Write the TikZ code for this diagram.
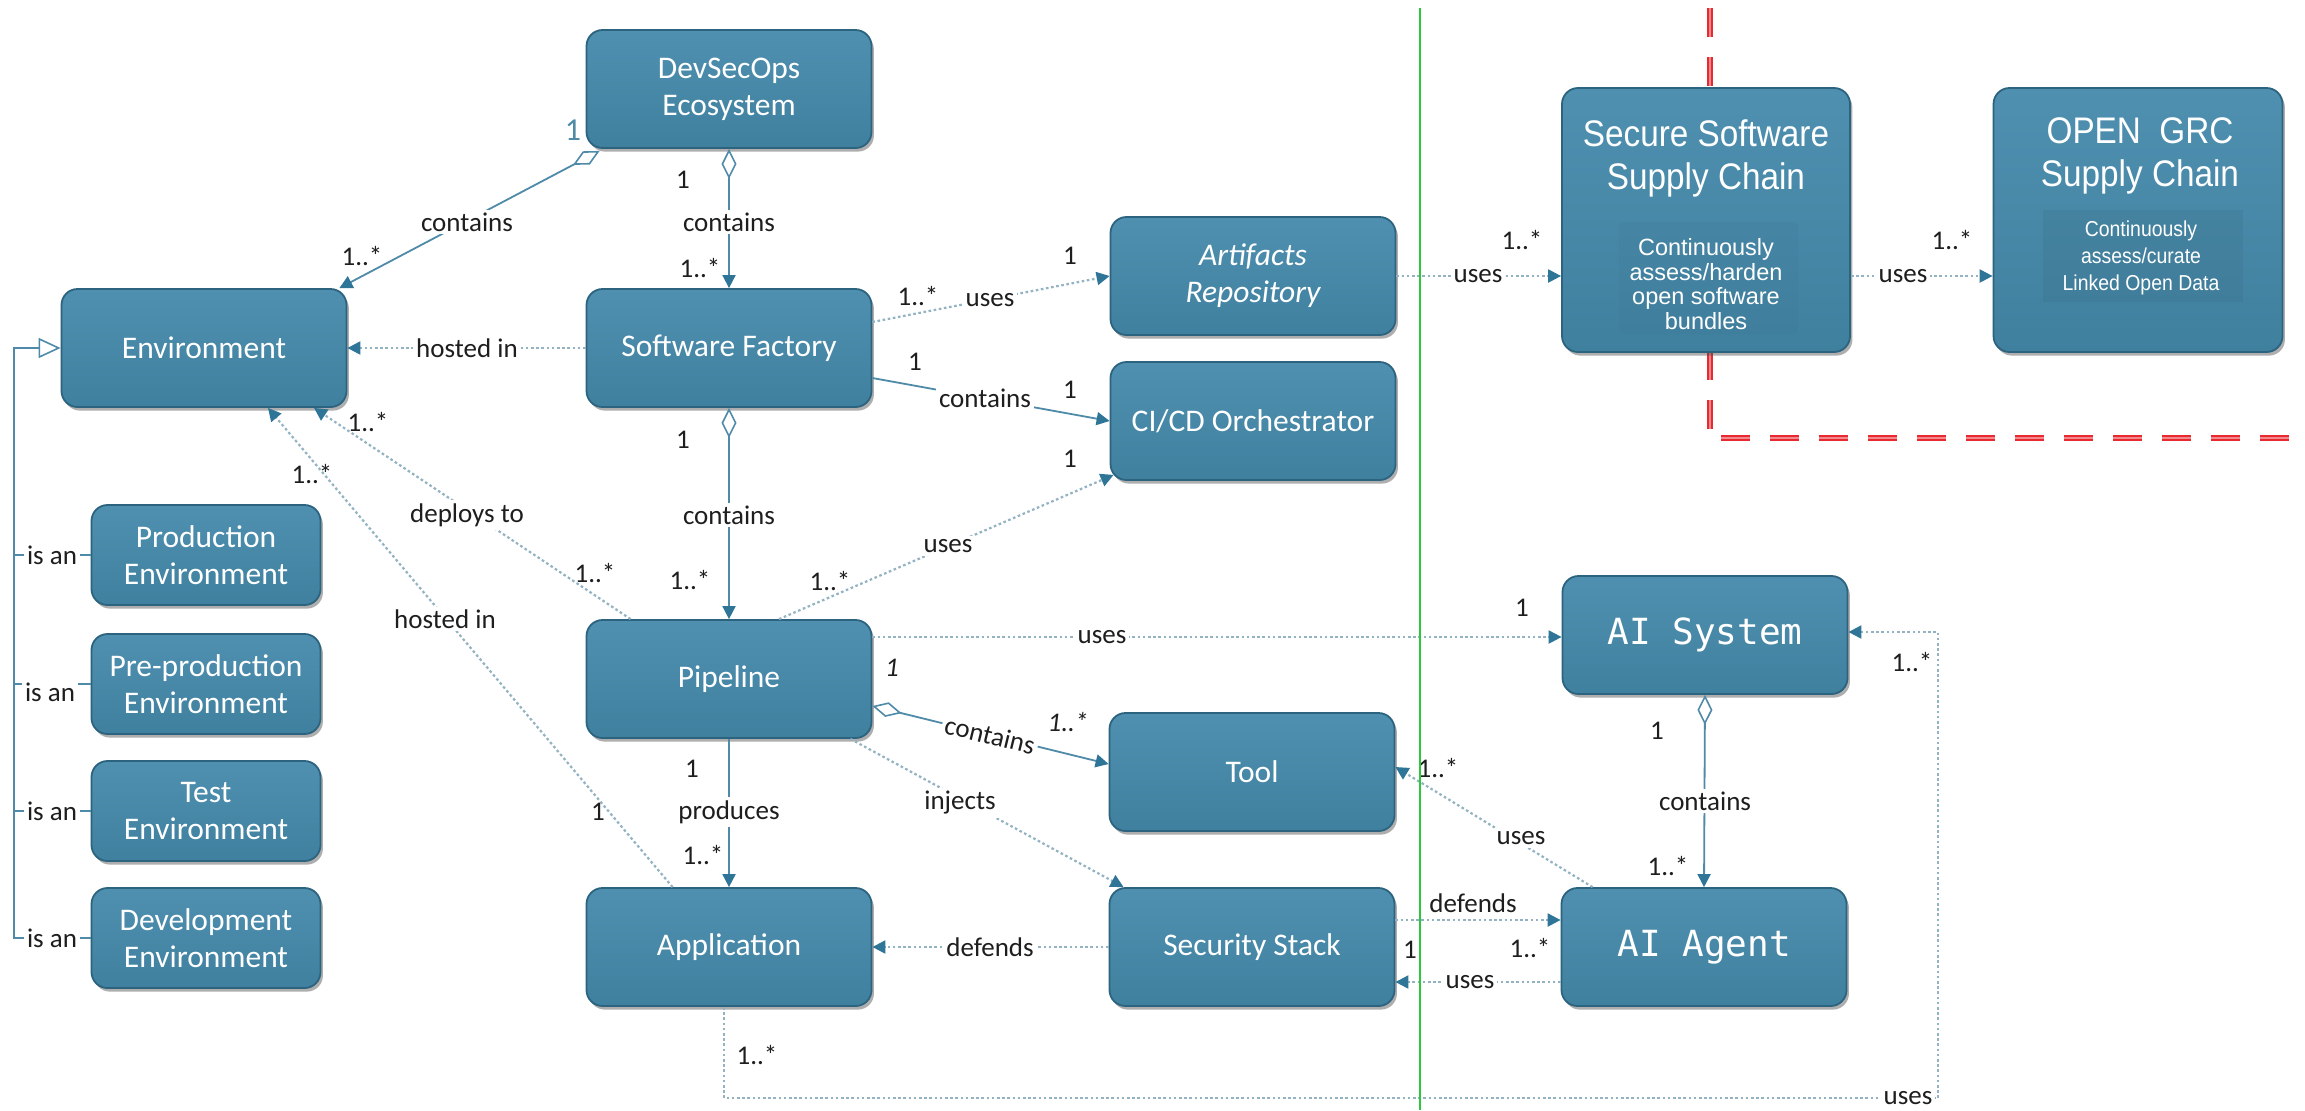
\documentclass[tikz,border=0pt]{standalone}
\usepackage{fontspec}
\setmainfont{Carlito}
\newfontfamily\monofont{DejaVu Sans Mono}
\newfontfamily\chainfont[FakeStretch=0.9]{Liberation Sans}
\newfontfamily\notefont{Liberation Sans}
\usetikzlibrary{arrows.meta,shadows,calc}

\definecolor{boxtop}{HTML}{4F90B0}
\definecolor{boxbot}{HTML}{40809F}
\definecolor{boxedge}{HTML}{2C6480}
\definecolor{linkblue}{HTML}{4F8BA8}
\definecolor{tipblue}{HTML}{2F7597}
\definecolor{dotline}{HTML}{93B3C2}
\definecolor{labelink}{HTML}{1E1E1E}
\definecolor{splitgreen}{HTML}{2BC93A}
\definecolor{zonered}{HTML}{E82A30}

\tikzset{
  headtri/.tip={Triangle[length=6.5pt,width=6.5pt,color=tipblue]},
  aggdia/.tip={Diamond[open,length=15pt,width=7.5pt,color=linkblue,line width=0.8pt]},
  gentri/.tip={Triangle[open,length=11pt,width=10pt,color=linkblue,line width=0.8pt]},
  entity/.style={draw=boxedge, line width=0.9pt, rounded corners=8pt,
    top color=boxtop, bottom color=boxbot, text=white, align=center,
    minimum width=142.5pt, minimum height=59pt, inner sep=2pt,
    font=\fontsize{15.75}{18.5}\selectfont,
    drop shadow={shadow xshift=1.2pt, shadow yshift=-1.8pt, opacity=0.45, fill=black!70}},
  subentity/.style={entity, minimum width=114.5pt, minimum height=50pt},
  monoentity/.style={entity, font=\monofont\fontsize{18}{21}\selectfont},
  chaintitle/.style={text=white, align=center, inner sep=0pt,
    font=\chainfont\fontsize{18.5}{21.5}\selectfont},
  chainnote/.style={text=white, align=center, inner sep=0pt,
    font=\notefont\fontsize{11.75}{12.2}\selectfont},
  grcnote/.style={text=white, align=center, inner sep=0pt,
    font=\chainfont\fontsize{10.8}{13.5}\selectfont},
  solidlink/.style={draw=linkblue, line width=0.9pt},
  dotlink/.style={draw=dotline, line width=1.1pt, dash pattern=on 1.3pt off 1.3pt},
  genlink/.style={draw=linkblue, line width=0.8pt},
  lbl/.style={font=\fontsize{13.5}{16}\selectfont, text=labelink, inner sep=1.5pt},
  onl/.style={lbl, fill=white},
  ilbl/.style={lbl, font=\fontsize{13.5}{16}\selectfont\itshape}
}

\begin{document}
\begin{tikzpicture}[x=0.5pt,y=-0.5pt]
\useasboundingbox (0,0) rectangle (2305,1110);
\fill[white] (0,0) rectangle (2305,1110);

% zone boundary of the supply-chain part
\draw[zonered, line width=1pt, double=zonered!55, double distance=0.7pt,
      dash pattern=on 14.5pt off 10pt] (1710,8) -- (1710,438) -- (2305,438);

% entities
\node[entity] (eco) at (729,89) {DevSecOps\\Ecosystem};
\node[entity] (env) at (204,348) {Environment};
\node[entity] (sf) at (729,348) {Software Factory};
\node[entity, font=\fontsize{15.75}{18.5}\selectfont\itshape] (art) at (1253,276) {Artifacts\\Repository};
\node[entity] (cicd) at (1253,421) {CI/CD Orchestrator};
\node[entity, minimum width=144pt, minimum height=132pt] (sssc) at (1706,220) {};
\node[entity, minimum width=144.5pt, minimum height=132pt] (grc) at (2138,220) {};
\fill[black, opacity=0.02, rounded corners=3pt] (1619,222) rectangle (1798,334);
\fill[black, opacity=0.045] (2043,210) rectangle (2243,302);
\node[chaintitle] (sssct) at (1706,158) {Secure Software\\Supply Chain};
\node[chainnote] (ssscn) at (1706,284) {Continuously\\assess/harden\\open software\\bundles};
\node[chaintitle] (grct) at (2140,156) {OPEN~~GRC\\Supply Chain};
\node[grcnote] (grcn) at (2141,258) {Continuously\\assess/curate\\Linked Open Data};

\node[subentity] (prod) at (206,555) {Production\\Environment};
\node[subentity] (pre) at (206,684) {Pre-production\\Environment};
\node[subentity] (test) at (206,811) {Test\\Environment};
\node[subentity] (dev) at (206,938) {Development\\Environment};

\node[entity] (pipe) at (729,679) {Pipeline};
\node[monoentity] (ais) at (1705,635) {AI System};
\node[entity] (tool) at (1252,772) {Tool};
\node[entity] (app) at (729,947) {Application};
\node[entity] (sec) at (1252,947) {Security Stack};
\node[monoentity] (agent) at (1704,947) {AI Agent};

% generalisation of environments
\coordinate (bus) at (14,348);
\draw[genlink, -gentri] (dev.west) -| (bus) -- (env.west);
\draw[genlink] (prod.west) -- (prod.west -| bus);
\draw[genlink] (pre.west) -- (pre.west -| bus);
\draw[genlink] (test.west) -- (test.west -| bus);

% associations
\draw[solidlink, aggdia-headtri] ($(eco.south west)+(14,2)$) -- ($(env.north east)+(-8,0)$);
\draw[solidlink, aggdia-headtri] (eco.south) -- (sf.north);
\draw[dotlink, -headtri] (sf.west) -- (env.east);
\draw[dotlink, -headtri] ($(sf.east)+(0,-26)$) -- (art.west);
\draw[solidlink, -headtri] ($(sf.east)+(0,30)$) -- (cicd.west);
\draw[solidlink, aggdia-headtri] (sf.south) -- (pipe.north);
\draw[dotlink, -headtri] ($(pipe.north west)+(45,0)$) -- ($(env.south)+(110,0)$);
\draw[dotlink, -headtri] ($(app.north west)+(87,0)$) -- ($(env.south)+(64,0)$);
\draw[dotlink, -headtri] ($(pipe.north)+(50,0)$) -- ($(cicd.south west)+(4,-6)$);
\draw[dotlink, -headtri] ($(pipe.east)+(0,-42)$) -- ($(ais.west)+(0,2)$);
\draw[solidlink, aggdia-headtri] ($(pipe.east)+(0,27)$) -- ($(tool.west)+(0,-8)$);
\draw[solidlink, -headtri] (pipe.south) -- (app.north);
\draw[dotlink, -headtri] ($(pipe.south east)+(-22,0)$) -- ($(sec.north west)+(15,0)$);
\draw[dotlink, -headtri] (sec.west) -- (app.east);
\draw[dotlink, -headtri] ($(agent.north west)+(32,0)$) -- ($(tool.east)+(0,-5)$);
\draw[solidlink, aggdia-headtri] (ais.south) -- (agent.north);
\draw[dotlink, -headtri] ($(sec.east)+(0,-27)$) -- ($(agent.west)+(0,-27)$);
\draw[dotlink, -headtri] ($(agent.west)+(0,35)$) -- ($(sec.east)+(0,35)$);
\coordinate (loopL) at (724,1098);
\coordinate (loopR) at (1938,1098);
\draw[dotlink, -headtri] ($(app.south)+(-5,0)$) -- (loopL) -- (loopR) |- ($(ais.east)+(0,-3)$);
\draw[dotlink, -headtri] (art.east) -- (art.east -| sssc.west);
\draw[dotlink, -headtri] ($(sssc.east)+(0,56)$) -- ($(grc.west)+(0,56)$);

% generalisation labels
\node[onl] (isa1) at (52,555) {is an};
\node[onl] (isa2) at (50,692) {is an};
\node[onl] (isa3) at (52,811) {is an};
\node[onl] (isa4) at (52,938) {is an};

% association labels and multiplicities
\node[lbl, text=linkblue, font=\fontsize{16}{18}\selectfont] (m1) at (573,130) {1};
\node[onl] (t1) at (467,222) {contains};
\node[lbl] (m2) at (362,256) {1..*};

\node[lbl] (m3) at (683,180) {1};
\node[onl] (t2) at (729,222) {contains};
\node[lbl] (m4) at (700,268) {1..*};

\node[onl] (t3) at (467,348) {hosted in};

\node[lbl] (m5) at (918,296) {1..*};
\node[onl] (t4) at (990,300) {uses};
\node[lbl] (m6) at (1070,256) {1};

\node[lbl] (m7) at (915,362) {1};
\node[onl] (t5) at (985,398) {contains};
\node[lbl] (m8) at (1070,390) {1};

\node[lbl] (m9) at (683,440) {1};
\node[onl] (t6) at (729,515) {contains};
\node[lbl] (m10) at (690,580) {1..*};

\node[lbl] (m11) at (368,422) {1..*};
\node[onl] (t7) at (467,515) {deploys to};
\node[lbl] (m12) at (595,573) {1..*};

\node[lbl] (m13) at (312,474) {1..*};
\node[onl] (t8) at (445,619) {hosted in};
\node[lbl] (m14) at (598,812) {1};

\node[lbl] (m15) at (830,581) {1..*};
\node[onl] (t9) at (948,546) {uses};
\node[lbl] (m16) at (1070,459) {1};

\node[onl] (t10) at (1102,637) {uses};
\node[lbl] (m17) at (1522,608) {1};

\node[ilbl] (m18) at (892,668) {1};
\node[onl, rotate=-13.7] (t11) at (990,735) {contains};
\node[ilbl] (m19) at (1068,722) {1..*};

\node[lbl] (m20) at (692,769) {1};
\node[onl] (t12) at (729,812) {produces};
\node[lbl] (m21) at (703,855) {1..*};

\node[onl] (t13) at (960,803) {injects};
\node[onl] (t14) at (990,947) {defends};

\node[lbl] (m22) at (1438,768) {1..*};
\node[onl] (t15) at (1521,838) {uses};

\node[lbl] (m23) at (1657,731) {1};
\node[onl] (t16) at (1705,801) {contains};
\node[lbl] (m24) at (1668,866) {1..*};

\node[lbl] (t17) at (1473,903) {defends};
\node[onl] (t18) at (1470,982) {uses};
\node[lbl] (m25) at (1410,950) {1};
\node[lbl] (m26) at (1530,948) {1..*};

\node[lbl] (m27) at (757,1055) {1..*};
\node[onl] (t19) at (1908,1098) {uses};
\node[lbl] (m28) at (1912,662) {1..*};

\node[onl] (t20) at (1478,276) {uses};
\node[lbl] (m29) at (1522,240) {1..*};
\node[onl] (t21) at (1903,276) {uses};
\node[lbl] (m30) at (1952,240) {1..*};

% divider between the two halves
\draw[splitgreen, line width=0.7pt] (1420,8) -- (1420,1110);
\end{tikzpicture}
\end{document}
